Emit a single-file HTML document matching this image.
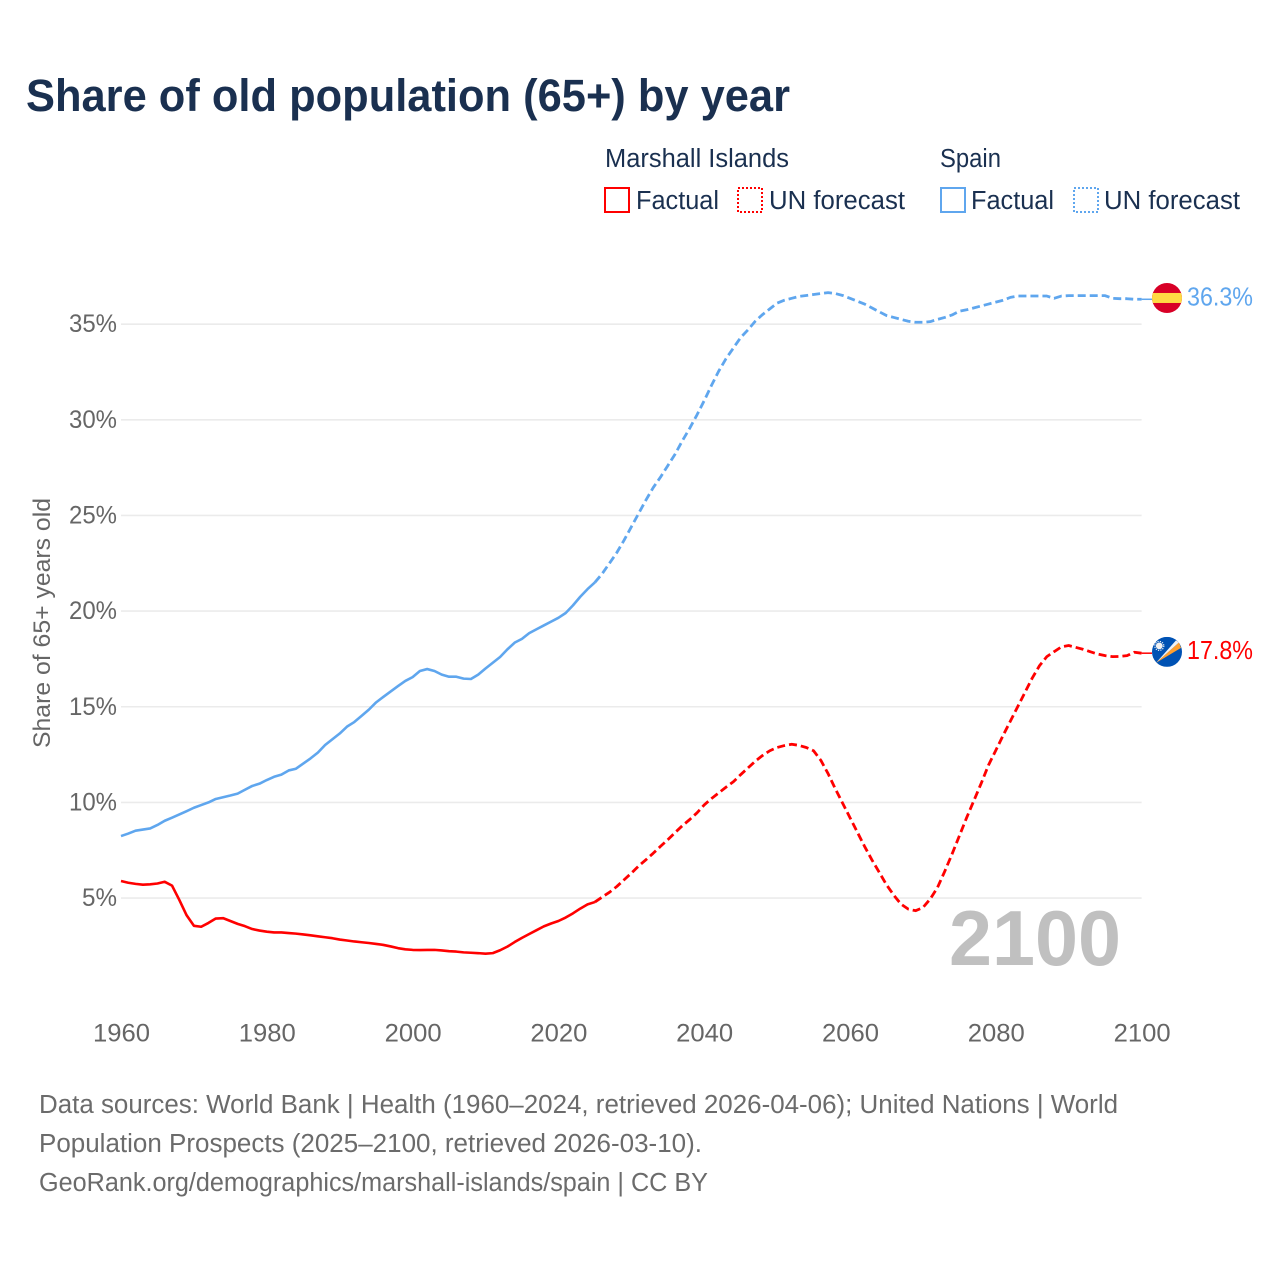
<!DOCTYPE html>
<html lang="en">
<head>
<meta charset="utf-8">
<title>Share of old population (65+) by year</title>
<style>
html,body{margin:0;padding:0;background:#fff;}
svg{display:block;font-family:"Liberation Sans",sans-serif;}
</style>
</head>
<body>
<svg id="chart" width="1280" height="1280" viewBox="0 0 1280 1280" xmlns="http://www.w3.org/2000/svg">
  <rect x="0" y="0" width="1280" height="1280" fill="#ffffff"/>
  <text x="26" y="111" font-size="45" font-weight="700" fill="#1a3050" textLength="764" lengthAdjust="spacingAndGlyphs">Share of old population (65+) by year</text>

  <g font-size="25.5" fill="#1a3050">
    <text x="605" y="167" textLength="184" lengthAdjust="spacingAndGlyphs">Marshall Islands</text>
    <rect x="605" y="188" width="24" height="24" fill="none" stroke="#ff0000" stroke-width="2"/>
    <text x="636" y="209" textLength="83" lengthAdjust="spacingAndGlyphs">Factual</text>
    <rect x="738" y="188" width="24" height="24" fill="none" stroke="#ff0000" stroke-width="2" stroke-dasharray="2 2"/>
    <text x="769" y="209" textLength="136" lengthAdjust="spacingAndGlyphs">UN forecast</text>

    <text x="940" y="167" textLength="61" lengthAdjust="spacingAndGlyphs">Spain</text>
    <rect x="941" y="188" width="24" height="24" fill="none" stroke="#5fa6ee" stroke-width="2"/>
    <text x="971" y="209" textLength="83" lengthAdjust="spacingAndGlyphs">Factual</text>
    <rect x="1074" y="188" width="24" height="24" fill="none" stroke="#5fa6ee" stroke-width="2" stroke-dasharray="2 2"/>
    <text x="1104" y="209" textLength="136" lengthAdjust="spacingAndGlyphs">UN forecast</text>
  </g>

  <g id="grid"></g>
  <g id="yticks" font-size="25" fill="#666666" text-anchor="end"></g>
  <g id="xticks" font-size="25" fill="#666666" text-anchor="middle"></g>
  <text transform="translate(50,748) rotate(-90)" font-size="24" fill="#666666" textLength="250" lengthAdjust="spacingAndGlyphs">Share of 65+ years old</text>

  <text x="949" y="965" font-size="78" font-weight="700" fill="#c0c0c0" textLength="172" lengthAdjust="spacingAndGlyphs">2100</text>

  <g id="series"></g>

  <defs>
    <clipPath id="clip-es"><circle cx="0" cy="0" r="15"/></clipPath>
    <clipPath id="clip-mh"><circle cx="0" cy="0" r="15"/></clipPath>
  </defs>
  <g id="flag-es">
    <g clip-path="url(#clip-es)">
      <rect x="-15" y="-15" width="30" height="30" fill="#d80027"/>
      <rect x="-15" y="-5" width="30" height="10" fill="#ffda44"/>
    </g>
  </g>
  <g id="flag-mh">
    <g clip-path="url(#clip-mh)">
      <rect x="-15" y="-15" width="30" height="30" fill="#0052b4"/>
      <polygon points="-11,11 12,-9.5 14,-4" fill="#ff9f2e"/>
      <polygon points="-11,11 9,-11.5 12,-9.5" fill="#f2f2f2"/>
      <circle cx="-7.7" cy="-6" r="3.4" fill="#f2f2f2"/>
      <circle cx="-7.7" cy="-6" r="4.5" fill="none" stroke="#f2f2f2" stroke-width="1.2" stroke-dasharray="1.2 1.2"/>
    </g>
  </g>
  <g id="end-labels" font-size="25.5"></g>

  <g font-size="25.5" fill="#6b6b6b">
    <text x="39" y="1113" textLength="1079" lengthAdjust="spacingAndGlyphs">Data sources: World Bank | Health (1960–2024, retrieved 2026-04-06); United Nations | World</text>
    <text x="39" y="1152" textLength="663" lengthAdjust="spacingAndGlyphs">Population Prospects (2025–2100, retrieved 2026-03-10).</text>
    <text x="39" y="1191" textLength="669" lengthAdjust="spacingAndGlyphs">GeoRank.org/demographics/marshall-islands/spain | CC BY</text>
  </g>
</svg>

<script>
const xTickYears = [1960, 1980, 2000, 2020, 2040, 2060, 2080, 2100];
const yTickValues = [5, 10, 15, 20, 25, 30, 35];
const factualStartYear = 1960;
const forecastStartYear = 2025;

const spainFactual = [
  8.24, 8.37, 8.52, 8.58, 8.64, 8.82, 9.04, 9.20, 9.37, 9.54,
  9.72, 9.86, 10.00, 10.18, 10.27, 10.36, 10.46, 10.66, 10.86, 10.98,
  11.17, 11.34, 11.45, 11.67, 11.76, 12.03, 12.30, 12.60, 13.00, 13.30,
  13.60, 13.96, 14.20, 14.52, 14.85, 15.23, 15.52, 15.80, 16.08, 16.35,
  16.55, 16.87, 16.97, 16.87, 16.68, 16.57, 16.57, 16.47, 16.45, 16.68,
  17.00, 17.30, 17.60, 18.00, 18.35, 18.55, 18.85, 19.05, 19.25, 19.45,
  19.65, 19.90, 20.30, 20.75, 21.15, 21.50
];
const spainForecast = [
  21.50, 21.95, 22.50, 23.05, 23.70,
  24.40, 25.10, 25.80, 26.45, 27.00, 27.60, 28.20, 28.90, 29.55, 30.25,
  31.00, 31.80, 32.55, 33.20, 33.75, 34.30, 34.70, 35.15, 35.50, 35.80,
  36.10, 36.25, 36.35, 36.45, 36.50, 36.55, 36.60, 36.65, 36.60, 36.50,
  36.35, 36.20, 36.05, 35.85, 35.65, 35.45, 35.35, 35.25, 35.15, 35.10,
  35.10, 35.13, 35.25, 35.35, 35.48, 35.68, 35.75, 35.85, 35.95, 36.05,
  36.15, 36.25, 36.40, 36.47, 36.47, 36.47, 36.47, 36.47, 36.35, 36.47,
  36.49, 36.49, 36.49, 36.49, 36.49, 36.49, 36.35, 36.33, 36.33, 36.30,
  36.30
];
const marshallFactual = [
  5.89, 5.80, 5.74, 5.70, 5.72, 5.76, 5.85, 5.65, 4.90, 4.10,
  3.55, 3.50, 3.70, 3.93, 3.95, 3.80, 3.65, 3.53, 3.38, 3.30,
  3.24, 3.20, 3.20, 3.17, 3.14, 3.10, 3.05, 3.00, 2.95, 2.90,
  2.83, 2.78, 2.73, 2.69, 2.65, 2.60, 2.55, 2.47, 2.38, 2.32,
  2.29, 2.28, 2.29, 2.29, 2.26, 2.22, 2.20, 2.16, 2.14, 2.12,
  2.09, 2.12, 2.27, 2.46, 2.70, 2.92, 3.12, 3.32, 3.52, 3.67,
  3.80, 3.98, 4.20, 4.45, 4.67, 4.79
];
const marshallForecast = [
  4.79, 5.05, 5.30, 5.60, 5.95,
  6.30, 6.67, 7.00, 7.34, 7.70, 8.05, 8.42, 8.78, 9.10, 9.45,
  9.87, 10.20, 10.50, 10.80, 11.08, 11.45, 11.80, 12.15, 12.45, 12.70,
  12.87, 12.97, 13.04, 12.98, 12.87, 12.70, 12.20, 11.50, 10.70, 9.95,
  9.20, 8.45, 7.70, 7.00, 6.35, 5.70, 5.15, 4.68, 4.42, 4.34,
  4.50, 4.95, 5.55, 6.40, 7.30, 8.25, 9.20, 10.10, 11.00, 11.95,
  12.72, 13.50, 14.25, 15.00, 15.75, 16.50, 17.15, 17.62, 17.88, 18.13,
  18.20, 18.10, 18.00, 17.87, 17.75, 17.67, 17.62, 17.63, 17.67, 17.85,
  17.80
];

const SVG_NS = 'http://www.w3.org/2000/svg';
const xScale = function (year) { return 121 + (year - 1960) * 7.29; };
const yScale = function (value) { return 993.7 - value * 19.13; };

const gridGroup = document.getElementById('grid');
const yTickGroup = document.getElementById('yticks');
yTickValues.forEach(function (value) {
  const line = document.createElementNS(SVG_NS, 'line');
  
  
  line.setAttribute('x1', xScale(1960));
  line.setAttribute('x2', xScale(2100));
  line.setAttribute('y1', yScale(value));
  line.setAttribute('y2', yScale(value));
  line.setAttribute('stroke', '#ebebeb');
  line.setAttribute('stroke-width', '1.6');
  gridGroup.appendChild(line);

  const label = document.createElementNS(SVG_NS, 'text');
  
  
  label.setAttribute('x', 117);
  label.setAttribute('y', yScale(value) + 8);
  label.setAttribute('textLength', String(value).length > 1 ? 48 : 35);
  label.setAttribute('lengthAdjust', 'spacingAndGlyphs');
  label.textContent = value + '%';
  yTickGroup.appendChild(label);
});

const xTickGroup = document.getElementById('xticks');
xTickYears.forEach(function (year) {
  const label = document.createElementNS(SVG_NS, 'text');
  
  
  label.setAttribute('x', xScale(year) + 0.5);
  label.setAttribute('y', 1041.5);
  label.setAttribute('textLength', '57');
  label.setAttribute('lengthAdjust', 'spacingAndGlyphs');
  label.textContent = year;
  xTickGroup.appendChild(label);
});

function linePoints(values, startYear) {
  return values.map(function (value, i) {
    return xScale(startYear + i).toFixed(2) + ',' + yScale(value).toFixed(2);
  }).join(' ');
}

const seriesGroup = document.getElementById('series');

const spainFactualLine = document.createElementNS(SVG_NS, 'polyline');


spainFactualLine.setAttribute('points', linePoints(spainFactual, factualStartYear));
spainFactualLine.setAttribute('fill', 'none');
spainFactualLine.setAttribute('stroke', '#5fa6ee');
spainFactualLine.setAttribute('stroke-width', '2.6');
spainFactualLine.setAttribute('stroke-linejoin', 'round');
seriesGroup.appendChild(spainFactualLine);

const spainForecastLine = document.createElementNS(SVG_NS, 'polyline');


spainForecastLine.setAttribute('points', linePoints(spainForecast, forecastStartYear));
spainForecastLine.setAttribute('fill', 'none');
spainForecastLine.setAttribute('stroke', '#5fa6ee');
spainForecastLine.setAttribute('stroke-width', '2.8');
spainForecastLine.setAttribute('stroke-dasharray', '8 4');
spainForecastLine.setAttribute('stroke-linejoin', 'round');
seriesGroup.appendChild(spainForecastLine);

const marshallFactualLine = document.createElementNS(SVG_NS, 'polyline');


marshallFactualLine.setAttribute('points', linePoints(marshallFactual, factualStartYear));
marshallFactualLine.setAttribute('fill', 'none');
marshallFactualLine.setAttribute('stroke', '#ff0000');
marshallFactualLine.setAttribute('stroke-width', '2.6');
marshallFactualLine.setAttribute('stroke-linejoin', 'round');
seriesGroup.appendChild(marshallFactualLine);

const marshallForecastLine = document.createElementNS(SVG_NS, 'polyline');


marshallForecastLine.setAttribute('points', linePoints(marshallForecast, forecastStartYear));
marshallForecastLine.setAttribute('fill', 'none');
marshallForecastLine.setAttribute('stroke', '#ff0000');
marshallForecastLine.setAttribute('stroke-width', '2.8');
marshallForecastLine.setAttribute('stroke-dasharray', '8 4');
marshallForecastLine.setAttribute('stroke-linejoin', 'round');
seriesGroup.appendChild(marshallForecastLine);

const endSpain = spainForecast[spainForecast.length - 1];
const endMarshall = marshallForecast[marshallForecast.length - 1];

const spainConnector = document.createElementNS(SVG_NS, 'line');


spainConnector.setAttribute('x1', xScale(2100));
spainConnector.setAttribute('x2', 1152);
spainConnector.setAttribute('y1', yScale(endSpain));
spainConnector.setAttribute('y2', yScale(endSpain));
spainConnector.setAttribute('stroke', '#5fa6ee');
spainConnector.setAttribute('stroke-width', '1.5');
seriesGroup.appendChild(spainConnector);

const marshallConnector = document.createElementNS(SVG_NS, 'line');


marshallConnector.setAttribute('x1', xScale(2100));
marshallConnector.setAttribute('x2', 1152);
marshallConnector.setAttribute('y1', yScale(endMarshall));
marshallConnector.setAttribute('y2', yScale(endMarshall));
marshallConnector.setAttribute('stroke', '#ff0000');
marshallConnector.setAttribute('stroke-width', '1.5');
seriesGroup.appendChild(marshallConnector);

document.getElementById('flag-es').setAttribute('transform', 'translate(1167,' + (yScale(endSpain) - 1.3) + ')');
document.getElementById('flag-mh').setAttribute('transform', 'translate(1167,' + (yScale(endMarshall) - 1.3) + ')');

const endLabels = document.getElementById('end-labels');

const spainEndLabel = document.createElementNS(SVG_NS, 'text');


spainEndLabel.setAttribute('x', 1187);
spainEndLabel.setAttribute('y', yScale(endSpain) + 6);
spainEndLabel.setAttribute('fill', '#5fa6ee');
spainEndLabel.setAttribute('textLength', '66');
spainEndLabel.setAttribute('lengthAdjust', 'spacingAndGlyphs');
spainEndLabel.textContent = endSpain.toFixed(1) + '%';
endLabels.appendChild(spainEndLabel);

const marshallEndLabel = document.createElementNS(SVG_NS, 'text');


marshallEndLabel.setAttribute('x', 1187);
marshallEndLabel.setAttribute('y', yScale(endMarshall) + 6);
marshallEndLabel.setAttribute('fill', '#ff0000');
marshallEndLabel.setAttribute('textLength', '66');
marshallEndLabel.setAttribute('lengthAdjust', 'spacingAndGlyphs');
marshallEndLabel.textContent = endMarshall.toFixed(1) + '%';
endLabels.appendChild(marshallEndLabel);
</script>
</body>
</html>
